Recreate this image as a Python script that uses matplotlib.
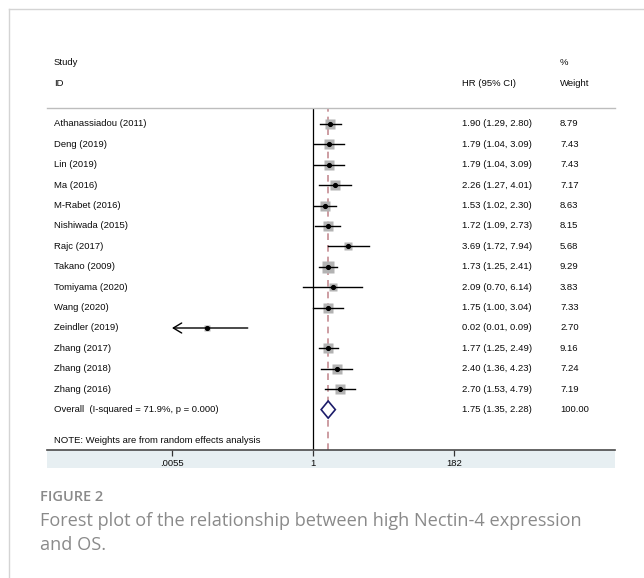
import numpy as np
import matplotlib
matplotlib.use('Agg')
import matplotlib.pyplot as plt
from matplotlib.patches import Rectangle, Polygon
from matplotlib.lines import Line2D
from matplotlib.transforms import blended_transform_factory

# ---------------- data ----------------
studies = ["Athanassiadou (2011)", "Deng (2019)", "Lin (2019)", "Ma (2016)",
           "M-Rabet (2016)", "Nishiwada (2015)", "Rajc (2017)", "Takano (2009)",
           "Tomiyama (2020)", "Wang (2020)", "Zeindler (2019)", "Zhang (2017)",
           "Zhang (2018)", "Zhang (2016)"]
hr = [1.90, 1.79, 1.79, 2.26, 1.53, 1.72, 3.69, 1.73, 2.09, 1.75, 0.02, 1.77, 2.40, 2.70]
lo = [1.29, 1.04, 1.04, 1.27, 1.02, 1.09, 1.72, 1.25, 0.70, 1.00, 0.0054, 1.25, 1.36, 1.53]
hi = [2.80, 3.09, 3.09, 4.01, 2.30, 2.73, 7.94, 2.41, 6.14, 3.04, 0.09, 2.49, 4.23, 4.79]
weights = [8.79, 7.43, 7.43, 7.17, 8.63, 8.15, 5.68, 9.29, 3.83, 7.33, 2.70, 9.16, 7.24, 7.19]
overall_label = "Overall  (I-squared = 71.9%, p = 0.000)"
overall_hr, overall_lo, overall_hi, overall_w = 1.75, 1.35, 2.28, 100.00
tick_values = [0.0055, 1, 182]
tick_labels = [".0055", "1", "182"]
note = "NOTE: Weights are from random effects analysis"

# ---------------- figure ----------------
W, H = 644, 578
fig = plt.figure(figsize=(W / 100, H / 100), dpi=100)
fig.patch.set_facecolor("white")

font = ["Liberation Sans", "DejaVu Sans"]
fs = 6.8
tcol = "#0a0a0a"

ax_l, ax_r, ax_t, ax_b = 47, 615, 108, 450
ax = fig.add_axes([ax_l / W, 1 - ax_b / H, (ax_r - ax_l) / W, (ax_b - ax_t) / H])
ax.set_xscale("log")
px_per_dec = 62.4
x1 = 313
ax.set_xlim(10 ** ((ax_l - x1) / px_per_dec), 10 ** ((ax_r - x1) / px_per_dec))
row0, rowstep = 124, 20.4
ax.set_ylim((ax_b - row0) / rowstep, (ax_t - row0) / rowstep)

for s in ["left", "right"]:
    ax.spines[s].set_visible(False)
ax.spines["top"].set_color("#bdbdbd")
ax.spines["top"].set_linewidth(1.0)
ax.spines["bottom"].set_color("#4a4a4a")
ax.spines["bottom"].set_linewidth(1.2)
ax.set_yticks([])
ax.set_xticks(tick_values)
ax.set_xticklabels(tick_labels)
ax.xaxis.set_minor_locator(matplotlib.ticker.NullLocator())
ax.tick_params(axis="x", direction="out", length=4, width=0.9, color="#333333",
               pad=2.8, labelsize=fs, labelcolor=tcol)
for lab in ax.get_xticklabels():
    lab.set_fontfamily(font)

# band below axis
band_h = 18 / (ax_b - ax_t)
ax.add_patch(Rectangle((0, -band_h), 1, band_h, transform=ax.transAxes,
                       facecolor="#e7eff2", edgecolor="none", clip_on=False, zorder=0.5))

# reference lines
ax.axvline(1, color="black", lw=0.9, zorder=2)
ax.axvline(overall_hr, color="#c58c92", lw=1.2, ls=(0, (4, 3)), zorder=1.5)

xmin_disp = tick_values[0]
n = len(studies)
for i in range(n):
    y = i
    ax.plot([hr[i]], [y], marker="s", ms=2.6 * np.sqrt(weights[i]),
            color="#b3b3b3", mec="none", zorder=3)
    if lo[i] < xmin_disp:
        ax.annotate("", xy=(xmin_disp, y), xytext=(hi[i], y),
                    arrowprops=dict(arrowstyle="->,head_length=0.5,head_width=0.3",
                                    lw=1.0, color="black", shrinkA=0, shrinkB=0,
                                    mutation_scale=12), zorder=4)
    else:
        ax.plot([lo[i], hi[i]], [y, y], color="black", lw=1.0, zorder=4)
    ax.plot([hr[i]], [y], marker="o", ms=2.7, color="black", zorder=5)

# overall diamond
yo = n
dh = 0.42
diamond = Polygon([[overall_lo, yo], [overall_hr, yo - dh], [overall_hi, yo], [overall_hr, yo + dh]],
                  closed=True, facecolor="white", edgecolor="#1c1c6a", lw=1.2, zorder=5)
ax.add_patch(diamond)

# text columns
tr = blended_transform_factory(ax.transAxes, ax.transData)
xs = (54 - ax_l) / (ax_r - ax_l)
xh = (462 - ax_l) / (ax_r - ax_l)
xw = (560 - ax_l) / (ax_r - ax_l)
kw = dict(transform=tr, fontsize=fs, color=tcol, va="center", ha="left",
          family=font, clip_on=False)
ax.text(xs, -3, "Study", **kw)
ax.text(xs, -2, "ID", **kw)
ax.text(xh, -2, "HR (95% CI)", **kw)
ax.text(xw, -3, "%", **kw)
ax.text(xw, -2, "Weight", **kw)
for i in range(n):
    ax.text(xs, i, studies[i], **kw)
    ax.text(xh, i, f"{hr[i]:.2f} ({lo[i]:.2f}, {hi[i]:.2f})", **kw)
    ax.text(xw, i, f"{weights[i]:.2f}", **kw)
ax.text(xs, yo, overall_label, **kw)
ax.text(xh, yo, f"{overall_hr:.2f} ({overall_lo:.2f}, {overall_hi:.2f})", **kw)
ax.text(xw, yo, f"{overall_w:.2f}", **kw)
ax.text(xs, n + 1.5, note, **kw)

# page frame
fig.add_artist(Line2D([9 / W, 9 / W], [0, 1 - 9 / H], transform=fig.transFigure,
                      color="#d4d4d4", lw=1.0))
fig.add_artist(Line2D([9 / W, 1], [1 - 9 / H, 1 - 9 / H], transform=fig.transFigure,
                      color="#d4d4d4", lw=1.0))

# caption
cap_font = ["Open Sans", "DejaVu Sans"]
fig.text(40 / W, 1 - 497 / H, "FIGURE 2", fontsize=10.5, fontweight="semibold",
         color="#8a8a8a", family=cap_font, va="center", ha="left")
fig.text(40 / W, 1 - 521 / H, "Forest plot of the relationship between high Nectin-4 expression",
         fontsize=13.1, color="#8a8a8a", family=cap_font, va="center", ha="left")
fig.text(40 / W, 1 - 545 / H, "and OS.", fontsize=13.1, color="#8a8a8a",
         family=cap_font, va="center", ha="left")

fig.savefig("out.png", dpi=100)
